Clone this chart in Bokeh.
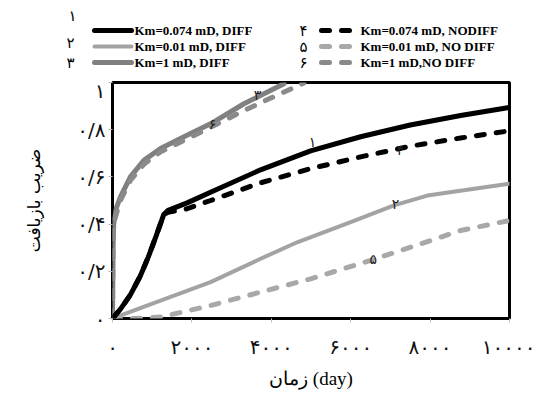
from bokeh.plotting import figure
from bokeh.models import Range1d, FixedTicker, Label
from bokeh.layouts import column
from bokeh.embed import file_html
from bokeh.resources import INLINE

# ---------------- data ----------------
# 1: Km=0.074 mD, DIFF
x1 = [0, 200, 450, 700, 900, 1100, 1290, 1400, 1880, 2470, 3730, 4990, 6250, 7500, 8770, 9990]
y1 = [0, 0.04, 0.10, 0.18, 0.26, 0.35, 0.440, 0.458, 0.49, 0.535, 0.63, 0.71, 0.77, 0.82, 0.86, 0.894]
# 2: Km=0.01 mD, DIFF
x2 = [0, 800, 2470, 3730, 4650, 6000, 7090, 7930, 9990]
y2 = [0, 0.05, 0.154, 0.253, 0.323, 0.408, 0.479, 0.521, 0.571]
# 3: Km=1 mD, DIFF
x3 = [0, 15, 30, 100, 200, 450, 790, 1210, 1800, 2470, 3310, 4320]
y3 = [0, 0.30, 0.40, 0.47, 0.515, 0.60, 0.67, 0.72, 0.77, 0.825, 0.91, 0.995]
# 4: Km=0.074 mD, NODIFF
x4 = [0, 200, 450, 700, 900, 1100, 1290, 1400, 1880, 2470, 3730, 4990, 6250, 7500, 8770, 9990]
y4 = [0, 0.04, 0.10, 0.18, 0.26, 0.35, 0.440, 0.450, 0.465, 0.50, 0.575, 0.635, 0.685, 0.73, 0.765, 0.795]
# 5: Km=0.01 mD, NO DIFF
x5 = [0, 600, 1210, 2470, 3730, 4990, 6500, 7510, 8770, 9990]
y5 = [0, 0.0, 0.006, 0.055, 0.112, 0.168, 0.246, 0.302, 0.373, 0.415]
# 6: Km=1 mD, NO DIFF
x6 = [0, 20, 200, 450, 800, 1200, 1800, 2470, 3300, 4000, 4820]
y6 = [0, 0.40, 0.50, 0.585, 0.655, 0.705, 0.755, 0.81, 0.88, 0.935, 0.998]

series_names = ["Km=0.074 mD, DIFF", "Km=0.01 mD, DIFF", "Km=1 mD, DIFF",
                "Km=0.074 mD, NODIFF", "Km=0.01 mD, NO DIFF", "Km=1 mD,NO DIFF"]
series_numbers = ["۱", "۲", "۳", "۴", "۵", "۶"]

x_ticks = [0, 2000, 4000, 6000, 8000, 10000]
x_tick_labels = ["۰", "۲۰۰۰", "۴۰۰۰", "۶۰۰۰", "۸۰۰۰", "۱۰۰۰۰"]
y_ticks = [0, 0.2, 0.4, 0.6, 0.8, 1.0]
y_tick_labels = ["۰", "۰/۲", "۰/۴", "۰/۶", "۰/۸", "۱"]

x_title = "زمان (day)"
y_title = "ضریب بازیافت"

# curve number annotations (data position of each number on its curve)
ann_x = [5040, 7130, 3650, 7250, 6570, 2520]
ann_y = [0.746, 0.487, 0.945, 0.712, 0.254, 0.826]

# ---------------- styles ----------------
DASH = "8 12"
styles = [
    dict(line_color="#000000", line_width=5, line_cap="round", line_join="round"),
    dict(line_color="#a3a3a3", line_width=4, line_cap="round", line_join="round"),
    dict(line_color="#808080", line_width=5, line_cap="round", line_join="round"),
    dict(line_color="#000000", line_width=5, line_dash=DASH, line_cap="round"),
    dict(line_color="#a8a8a8", line_width=5, line_dash=DASH, line_cap="round"),
    dict(line_color="#8a8a8a", line_width=5, line_dash=DASH, line_cap="round"),
]

# ---------------- main figure ----------------
p = figure(width=535, height=321, output_backend="svg", toolbar_location=None,
           x_range=Range1d(0, 10000), y_range=Range1d(0, 1),
           min_border_left=112, min_border_right=26, min_border_top=4,
           min_border_bottom=81, title=None)
p.frame_align = False
p.background_fill_color = "white"
p.border_fill_color = "white"
p.outline_line_color = "black"
p.outline_line_width = 3
p.grid.visible = False

for ax in (p.xaxis[0], p.yaxis[0]):
    ax.axis_line_color = None
    ax.major_tick_in = 0
    ax.major_tick_out = 4
    ax.major_tick_line_color = "#bbbbbb"
    ax.minor_tick_line_color = None
    ax.major_label_text_font = "DejaVu Sans"
    ax.major_label_text_font_size = "20px"
    ax.major_label_text_color = "#111111"
    ax.axis_label_text_font_style = "normal"
    ax.axis_label_text_color = "black"

p.xaxis.ticker = FixedTicker(ticks=x_ticks)
p.xaxis.major_label_overrides = {t: l for t, l in zip(x_ticks, x_tick_labels)}
p.xaxis.major_label_standoff = 12
p.xaxis.axis_label = x_title
p.xaxis.axis_label_text_font = "Liberation Serif"
p.xaxis.axis_label_text_font_size = "19px"
p.xaxis.axis_label_standoff = 6

p.yaxis.ticker = FixedTicker(ticks=y_ticks)
p.yaxis.major_label_overrides = {t: l for t, l in zip(y_ticks, y_tick_labels)}
p.yaxis.major_label_standoff = 3
p.yaxis.axis_label = y_title
p.yaxis.axis_label_text_font = "DejaVu Sans"
p.yaxis.axis_label_text_font_size = "17px"
p.yaxis.axis_label_standoff = 30

xs = [x1, x2, x3, x4, x5, x6]
ys = [y1, y2, y3, y4, y5, y6]
order = [2, 5, 1, 4, 3, 0]
for i in order:
    p.line(xs[i], ys[i], **styles[i])

for txt, xx, yy in zip(series_numbers, ann_x, ann_y):
    p.add_layout(Label(x=xx, y=yy, text=txt, text_font="DejaVu Sans",
                       text_font_size="14px", text_color="#222222",
                       text_align="center", text_baseline="middle"))

# ---------------- legend strip (above the plot), pixel coordinates ----------------
LH = 78
lf = figure(width=535, height=LH, output_backend="svg", toolbar_location=None,
            x_range=Range1d(0, 535), y_range=Range1d(LH, 0), min_border=0,
            x_axis_type=None, y_axis_type=None, title=None)
lf.frame_align = False
lf.outline_line_color = None
lf.grid.visible = False
lf.background_fill_color = "white"
lf.border_fill_color = "white"

# sample positions: (line start, line end, text start, row y, number x, number y)
legend_slots = [(94, 131, 134, 30, 72, 15), (94, 131, 134, 46, 70, 42), (94, 131, 134, 62, 70, 62),
                (321, 350, 360, 30, 303, 30), (321, 350, 360, 46, 303, 46), (321, 350, 360, 62, 303, 62)]
for k, (a, b, tx, ry, nx, ny) in enumerate(legend_slots):
    lf.line([a, b], [ry, ry], **styles[k])
    lf.add_layout(Label(x=tx, y=ry, text=series_names[k], text_font="Liberation Serif",
                        text_font_style="bold", text_font_size="13px", text_color="black",
                        text_align="left", text_baseline="middle"))
    lf.add_layout(Label(x=nx, y=ny, text=series_numbers[k], text_font="DejaVu Sans",
                        text_font_size="15px", text_color="black",
                        text_align="center", text_baseline="middle"))

layout = column(lf, p, spacing=0)
open("out.html", "w").write(file_html(layout, INLINE))
